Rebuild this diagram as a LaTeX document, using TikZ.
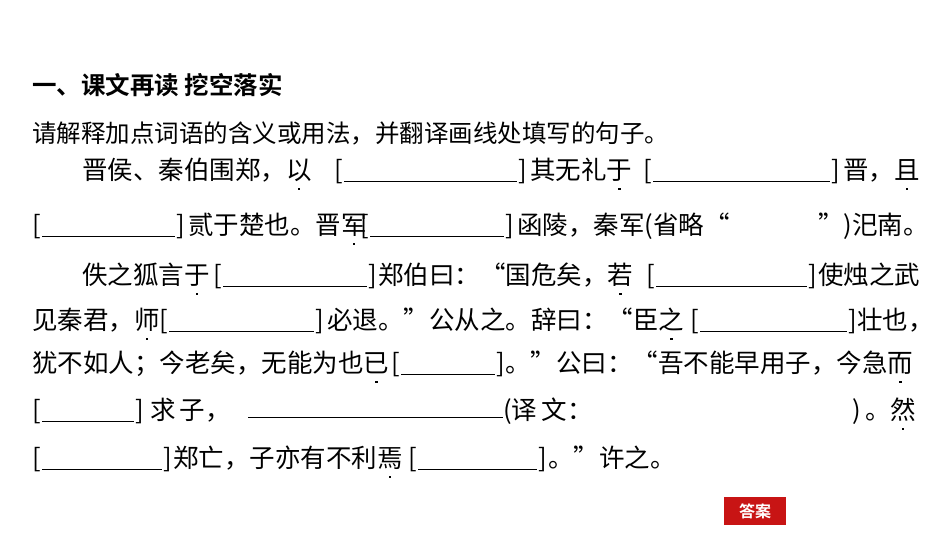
\documentclass[tikz,border=0pt]{standalone}
\usepackage{fontspec}
\setmainfont{Noto Sans CJK SC}
\newfontfamily\cjkb{Noto Sans CJK SC Bold}
\newcommand\dt[1]{\leavevmode\setbox0\hbox{#1}\rlap{\hbox to\wd0{\hss\raisebox{-0.42em}{\rule{2.2pt}{2.2pt}}\hss}}#1}
\begin{document}
\begin{tikzpicture}[x=1pt,y=-1pt,
  t/.style={anchor=base west,inner sep=0,font=\fontsize{25.5}{28}\selectfont},
  te/.style={anchor=base east,inner sep=0,font=\fontsize{25.5}{28}\selectfont}]
\useasboundingbox (0,0) rectangle (950,535);
\fill[white] (0,0) rectangle (950,535);
\newcommand\blank[4]{\node[t] (#1a) at (#2,#4) {[}; \node[te] (#1b) at (#3,#4) {]};
  \draw[line width=1pt] ([xshift=1pt,yshift=-2pt]#1a.base east) -- ([xshift=-1pt,yshift=-2pt]#1b.base west);}
\node[anchor=base west,inner sep=0,font=\cjkb\fontsize{24.5}{27}\selectfont] (title) at (32,94) {一、课文再读\ 挖空落实};
\node[anchor=base west,inner sep=0,font=\fontsize{24.5}{28}\selectfont] (intro) at (32,142) {请解释加点词语的含义或用法，并翻译画线处填写的句子。};
% line 3
\node[t] (l3a) at (82,179) {晋侯、秦伯围郑，\dt{以}};
\blank{b1}{334}{527}{179}
\node[t] (l3b) at (530,179) {其无礼\dt{于}};
\blank{b2}{643}{840}{179}
\node[t] (l3c) at (843,179) {晋，\dt{且}};
% line 4
\blank{b3}{32}{185}{234}
\node[t] (l4a) at (188,234) {贰于楚也。晋\dt{军}};
\blank{b4}{360}{514}{234}
\node[t] (l4b) at (517,234) {函陵，秦军(省略“};
\node[t] (l4c) at (818,234) {”)汜南。};
% line 5
\node[t] (l5a) at (82,284) {佚之狐言\dt{于}};
\blank{b5}{213}{377}{284}
\node[t] (l5b) at (378,284) {郑伯曰：“国危矣，\dt{若}};
\blank{b6}{646}{817}{284}
\node[t] (l5c) at (818,284) {使烛之武};
% line 6
\node[t] (l6a) at (32,329) {见秦君，\dt{师}};
\blank{b7}{159}{324}{329}
\node[t] (l6b) at (327,329) {必退。”公从之。辞曰：“臣\dt{之}};
\blank{b8}{690}{857}{329}
\node[t] (l6c) at (857,329) {壮也，};
% line 7
\node[t] (l7a) at (32,372) {犹不如人；今老矣，无能为也\dt{已}};
\blank{b9}{391}{505}{372}
\node[t] (l7b) at (505,372) {。”公曰：“吾不能早用子，今急\dt{而}};
% line 8
\blank{b10}{32}{144}{419}
\node[t] (l8a) at (150,419) {求\,子，};
\coordinate (u1) at (248,417); \coordinate (u2) at (503,417);
\draw[line width=1pt] (u1) -- (u2);
\node[t] (l8b) at (503,419) {(译\,文：};
\node[t] (l8c) at (852,419) {)\,。\dt{然}};
% line 9
\blank{b11}{32}{172}{467}
\node[t] (l9a) at (173,467) {郑亡，子亦有不利\dt{焉}};
\blank{b12}{408}{547}{467}
\node[t] (l9b) at (548,467) {。”许之。};
% button
\node[fill={rgb,255:red,200;green,20;blue,20},text=white,font=\cjkb\fontsize{16}{18}\selectfont,minimum width=62pt,minimum height=28pt,inner sep=0] (ans) at (755,511) {答案};
\end{tikzpicture}
\end{document}
